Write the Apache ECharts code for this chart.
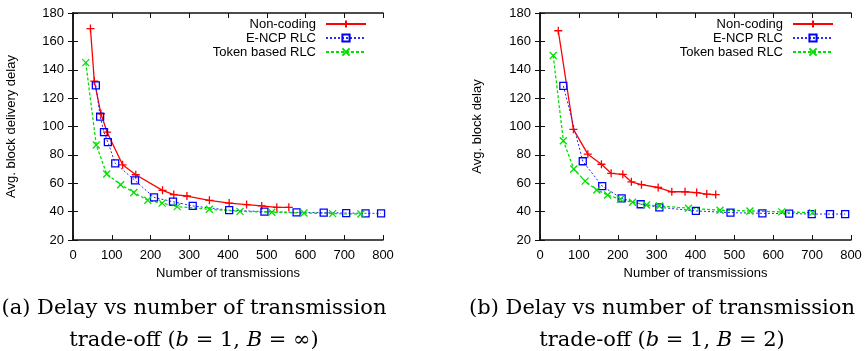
<!DOCTYPE html>
<html>
<head>
<meta charset="utf-8">
<script src="https://cdn.jsdelivr.net/npm/echarts@6/dist/echarts.min.js"></script>
<style>
html, body { margin: 0; padding: 0; background: #fff; }
#main { width: 865px; height: 351px; }
</style>
</head>
<body>
<div id="main"></div>
<script>
// (a) b = 1, B = inf
var ncA_x = [45, 55, 72, 88, 128, 162, 231, 260, 294, 352, 403, 448, 487, 526, 557];
var ncA_y = [169, 132, 109, 96, 73, 66, 55, 52, 51, 48, 46, 45, 44, 43, 43];
var enA_x = [59, 70, 80, 90, 109, 160, 209, 258, 309, 403, 494, 577, 647, 705, 755, 795];
var enA_y = [129, 107, 96, 89, 74, 62, 50, 47, 44, 41, 40, 39.5, 39.3, 39, 38.8, 38.8];
var tkA_x = [33, 60, 87, 123, 157, 193, 230, 269, 352, 431, 513, 596, 670, 743];
var tkA_y = [145, 87, 66.5, 59, 53.5, 48, 46, 43.5, 41.7, 40.2, 39.6, 39, 38.6, 38.3];

// (b) b = 1, B = 2
var ncB_x = [47, 86, 123, 158, 183, 213, 235, 261, 304, 339, 373, 403, 429, 452];
var ncB_y = [167.5, 98, 80.5, 73.4, 67, 66.3, 61, 59, 57, 54, 54, 53.4, 52.4, 52];
var enB_x = [60, 110, 160, 210, 259, 307, 401, 490, 572, 641, 699, 746, 785];
var enB_y = [128.6, 75.5, 58, 49.4, 45.2, 43, 40.5, 39.3, 38.8, 38.6, 38.3, 38.3, 38.3];
var tkB_x = [34, 60, 87, 116, 146, 174, 207, 238, 274, 307, 382, 463, 540, 622, 701];
var tkB_y = [150, 90, 70, 61.5, 55.3, 51.7, 48.7, 46.6, 44.7, 44, 42.4, 41, 40.5, 39.8, 39.3];

var names = ['Non-coding', 'E-NCP RLC', 'Token based RLC'];
var yTitles = ['Avg. block delivery delay', 'Avg. block delay'];
var xTitle = 'Number of transmissions';
var captions = [
    ['(a) Delay vs number of transmission', 'trade-off ({i|b} = 1, {i|B} = ∞)'],
    ['(b) Delay vs number of transmission', 'trade-off ({i|b} = 1, {i|B} = 2)']
];

var FONT = 'Liberation Sans';
var plus = 'path://M0,5L10,5M5,0L5,10';
var cross = 'path://M0,0L10,10M10,0L0,10';
var square = 'path://M0,0L10,0L10,10L0,10Z';

function zip(xs, ys) {
    return xs.map(function (x, i) { return [x, ys[i]]; });
}

var axisLine = { lineStyle: { color: '#111', width: 1.5 } };
var tick = { inside: true, length: 5, lineStyle: { color: '#111', width: 1 } };

function xAxis(g, top) {
    return {
        gridIndex: g, type: 'value', position: top ? 'top' : 'bottom',
        min: 0, max: 800, interval: 100,
        name: top ? '' : xTitle, nameLocation: 'middle', nameGap: 26,
        nameTextStyle: { color: '#000', fontFamily: FONT, fontSize: 13 },
        axisLine: axisLine, axisTick: tick, splitLine: { show: false },
        axisLabel: { show: !top, color: '#000', fontFamily: FONT, fontSize: 13, margin: 9 }
    };
}
function yAxis(g, right) {
    return {
        gridIndex: g, type: 'value', position: right ? 'right' : 'left',
        min: 20, max: 180, interval: 20,
        name: right ? '' : yTitles[g], nameLocation: 'middle', nameGap: g === 0 ? 55 : 56,
        nameTextStyle: { color: '#000', fontFamily: FONT, fontSize: 13 },
        axisLine: axisLine, axisTick: tick, splitLine: { show: false },
        axisLabel: { show: !right, color: '#000', fontFamily: FONT, fontSize: 13, margin: 9 }
    };
}

function series(g, xs) {
    return [
        {
            name: names[0], type: 'line', xAxisIndex: g, yAxisIndex: g,
            symbol: plus, symbolSize: 8,
            lineStyle: { color: '#ff0000', width: 1.3 },
            itemStyle: { color: '#ff0000', borderColor: '#ff0000', borderWidth: 1.3 },
            data: zip(xs[0], xs[1])
        },
        {
            name: names[1], type: 'line', xAxisIndex: g, yAxisIndex: g,
            symbol: square, symbolSize: 7,
            lineStyle: { color: '#2a2aff', width: 1, type: [2, 2] },
            itemStyle: { color: 'rgba(0,0,0,0)', borderColor: '#0000ff', borderWidth: 1.3 },
            data: zip(xs[2], xs[3])
        },
        {
            name: names[2], type: 'line', xAxisIndex: g, yAxisIndex: g,
            symbol: cross, symbolSize: 7,
            lineStyle: { color: '#00e000', width: 1.3, type: [3, 2] },
            itemStyle: { color: '#00e000', borderColor: '#00e000', borderWidth: 1.3 },
            data: zip(xs[4], xs[5])
        }
    ];
}

function legend(right) {
    return {
        data: names, orient: 'vertical', align: 'right', padding: 0,
        right: right, top: 17, itemWidth: 40, itemHeight: 9, itemGap: 0,
        textStyle: { color: '#000', fontFamily: FONT, fontSize: 13, lineHeight: 14, padding: [0, 5, 0, 0] }
    };
}

function caption(cx, lines) {
    var rich = { i: { fontStyle: 'italic', fontFamily: 'DejaVu Serif', fontSize: 21 } };
    return [
        { type: 'text', x: cx, y: 309, style: { text: lines[0], fontFamily: 'DejaVu Serif', fontSize: 21, fill: '#000', align: 'center', verticalAlign: 'middle' } },
        { type: 'text', x: cx, y: 341, style: { text: lines[1], fontFamily: 'DejaVu Serif', fontSize: 21, fill: '#000', align: 'center', verticalAlign: 'middle', rich: rich } }
    ];
}

var myChart = echarts.init(document.getElementById('main'));
var option = {
    animation: false,
    backgroundColor: '#fff',
    grid: [
        { left: 73, top: 13, width: 310, height: 227 },
        { left: 540, top: 13, width: 311, height: 227 }
    ],
    xAxis: [xAxis(0, false), xAxis(1, false), xAxis(0, true), xAxis(1, true)],
    yAxis: [yAxis(0, false), yAxis(1, false), yAxis(0, true), yAxis(1, true)],
    legend: [legend(498), legend(31)],
    series: series(0, [ncA_x, ncA_y, enA_x, enA_y, tkA_x, tkA_y])
        .concat(series(1, [ncB_x, ncB_y, enB_x, enB_y, tkB_x, tkB_y])),
    graphic: caption(194, captions[0]).concat(caption(662, captions[1]))
};
myChart.setOption(option);
window.addEventListener('resize', function () {
    myChart.resize();
});
</script>
</body>
</html>
